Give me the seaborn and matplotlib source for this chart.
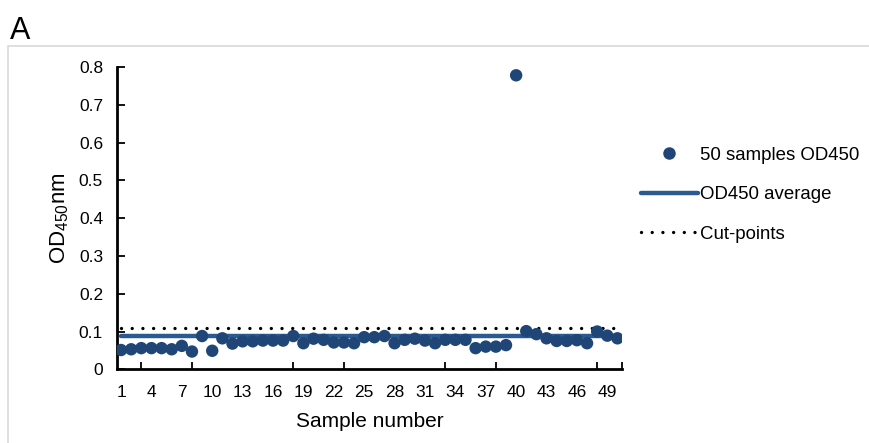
import numpy as np
import pandas as pd
import matplotlib
matplotlib.use("Agg")
import matplotlib.pyplot as plt
from matplotlib.lines import Line2D
from matplotlib.patches import Rectangle
import seaborn as sns

# OD450 readings for the 50 samples
samples = list(range(1, 51))
od450 = [0.051, 0.053, 0.056, 0.056, 0.056, 0.053, 0.062, 0.047, 0.088, 0.049,
         0.082, 0.068, 0.074, 0.074, 0.076, 0.076, 0.076, 0.088, 0.069, 0.081,
         0.078, 0.071, 0.071, 0.069, 0.085, 0.085, 0.088, 0.069, 0.078, 0.081,
         0.076, 0.069, 0.078, 0.078, 0.078, 0.056, 0.060, 0.060, 0.064, 0.778,
         0.101, 0.093, 0.082, 0.075, 0.075, 0.077, 0.069, 0.100, 0.089, 0.082]
cut_point = 0.108
xtick_labels = list(range(1, 51, 3))
ytick_values = [0, 0.1, 0.2, 0.3, 0.4, 0.5, 0.6, 0.7, 0.8]

avg = float(np.mean(od450))
df = pd.DataFrame({"sample": samples, "od": od450,
                   "avg": [avg] * len(samples),
                   "cut": [cut_point] * len(samples)})

sns.set_style("ticks")
plt.rcParams["font.family"] = ["Liberation Sans", "DejaVu Sans"]
plt.rcParams["mathtext.fontset"] = "custom"
plt.rcParams["mathtext.rm"] = "Liberation Sans"
plt.rcParams["text.color"] = "black"
plt.rcParams["axes.labelcolor"] = "black"
plt.rcParams["xtick.color"] = "black"
plt.rcParams["ytick.color"] = "black"

DOT = "#1F4677"
LINE = "#2B5A91"
DOTTED = (0, (0.01, 3.2))

fig = plt.figure(figsize=(8.7, 4.43), dpi=100)
ax = fig.add_axes([117 / 870, 1 - 369.3 / 443, (622 - 117) / 870, (369.3 - 67) / 443])

# light frame around the panel
fig.patches.append(Rectangle((8 / 870, -0.2), 1.2, (443 - 46) / 443 + 0.2,
                             transform=fig.transFigure, fill=False,
                             edgecolor="#d9d9d9", linewidth=1.2, zorder=0))
fig.text(10 / 870, 1 - 39 / 443, "A", fontsize=22, ha="left", va="baseline")

sns.lineplot(data=df, x="sample", y="cut", ax=ax, color="black",
             linewidth=2.4, linestyle=DOTTED, zorder=2)
ax.get_lines()[-1].set_dash_capstyle("round")
sns.lineplot(data=df, x="sample", y="avg", ax=ax, color=LINE,
             linewidth=3.2, zorder=3)
sns.scatterplot(data=df, x="sample", y="od", ax=ax, color=DOT, s=80,
                edgecolor="none", zorder=4)

ax.set_xlim(0.6, 50.45)
ax.set_ylim(0, 0.8)
ax.set_xticks(xtick_labels)
ax.set_xticklabels([str(v) for v in xtick_labels], fontsize=12.5)
ax.tick_params(axis="x", which="major", length=0, pad=11)
ax.set_xticks(list(range(3, 51, 5)) + [50.45], minor=True)
ax.tick_params(axis="x", which="minor", direction="in", length=5, width=1.3)
ax.set_yticks(ytick_values)
ax.set_yticklabels(["0"] + [f"{v:.1f}" for v in ytick_values[1:]], fontsize=12.5)
ax.tick_params(axis="y", direction="in", length=6, width=1.3, pad=10)

for side in ("top", "right"):
    ax.spines[side].set_visible(False)
for side in ("left", "bottom"):
    ax.spines[side].set_linewidth(2)
    ax.spines[side].set_color("black")

ax.set_xlabel("Sample number", fontsize=15, labelpad=9)
ax.set_ylabel(r"OD$_\mathregular{450}$nm", fontsize=16, labelpad=6)

handles = [
    Line2D([], [], linestyle="none", marker="o", markersize=9,
           markerfacecolor=DOT, markeredgecolor="none"),
    Line2D([], [], color=LINE, linewidth=3.2),
    Line2D([], [], color="black", linewidth=2.4, linestyle=DOTTED,
           dash_capstyle="round"),
]
fig.legend(handles, ["50 samples OD450", "OD450 average", "Cut-points"],
           loc="upper left", bbox_to_anchor=(624 / 870, 1 - 130 / 443),
           frameon=False, fontsize=13.4, handlelength=3.05,
           handletextpad=0.15, labelspacing=1.2)

fig.savefig("out.png", dpi=100)
